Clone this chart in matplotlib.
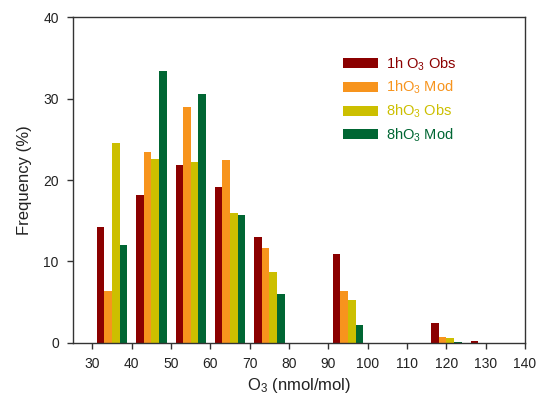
import numpy as np
import matplotlib
matplotlib.use("Agg")
import matplotlib.pyplot as plt

plt.rcParams['font.family'] = ['Liberation Sans', 'DejaVu Sans']
plt.rcParams['mathtext.fontset'] = 'custom'
plt.rcParams['mathtext.rm'] = 'Liberation Sans'
plt.rcParams['mathtext.it'] = 'Liberation Sans:italic'
plt.rcParams['mathtext.default'] = 'regular'

# bin centres (nmol/mol) and frequency (%) per series
bin_centers = [35, 45, 55, 65, 75, 95, 120, 130]
obs_1h = [14.2, 18.1, 21.8, 19.1, 13.0, 10.9, 2.4, 0.25]
mod_1h = [6.4, 23.4, 29.0, 22.4, 11.6, 6.35, 0.7, 0.0]
obs_8h = [24.5, 22.6, 22.2, 15.9, 8.7, 5.2, 0.6, 0.0]
mod_8h = [12.0, 33.4, 30.6, 15.7, 6.0, 2.2, 0.1, 0.0]

series = [obs_1h, mod_1h, obs_8h, mod_8h]
labels = ["1h O$_3$ Obs", "1hO$_3$ Mod", "8hO$_3$ Obs", "8hO$_3$ Mod"]
colors = ["#8B0000", "#F7941D", "#CCBF00", "#006633"]

fig = plt.figure(figsize=(5.37, 3.95), dpi=100)
ax = fig.add_axes([0.1354, 0.1324, 0.8423, 0.8238])

width = 1.93
centers = np.array(bin_centers, dtype=float)
for k, (vals, lab, col) in enumerate(zip(series, labels, colors)):
    offs = (k - 1.5) * width
    ax.bar(centers + offs, vals, width=width, color=col, label=lab, linewidth=0)

ax.set_xlim(25, 140)
ax.set_ylim(0, 40)
ax.set_xticks(np.arange(30, 141, 10))
ax.set_yticks(np.arange(0, 41, 10))
ax.tick_params(axis='both', direction='out', length=4, width=1, color='#333333',
               labelsize=10, labelcolor='#222222', pad=6)
for sp in ax.spines.values():
    sp.set_linewidth(1.0)
    sp.set_color('#333333')

ax.set_xlabel("O$_3$ (nmol/mol)", fontsize=12, color='#222222', labelpad=4)
ax.set_ylabel("Frequency (%)", fontsize=12, color='#222222', labelpad=8)

leg = ax.legend(loc='upper left', bbox_to_anchor=(0.5976, 0.883), frameon=False,
                fontsize=10.5, handlelength=2.4, handleheight=0.68,
                handletextpad=0.55, labelspacing=0.43, borderpad=0,
                borderaxespad=0)
for txt, col in zip(leg.get_texts(), colors):
    txt.set_color(col)

fig.savefig("out.png", dpi=100)
